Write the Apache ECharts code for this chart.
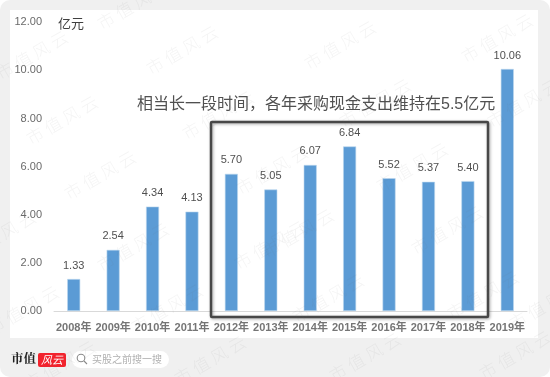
<!DOCTYPE html>
<html>
<head>
<meta charset="utf-8">
<style>
html, body { margin: 0; padding: 0; background: #fff; }
#chart { width: 550px; height: 377px; }
</style>
<script src="https://cdn.jsdelivr.net/npm/echarts@6/dist/echarts.min.js"></script>
</head>
<body>
<div id="chart"></div>
<script>
var categories = ['2008年','2009年','2010年','2011年','2012年','2013年','2014年','2015年','2016年','2017年','2018年','2019年'];
var values = [1.33, 2.54, 4.34, 4.13, 5.70, 5.05, 6.07, 6.84, 5.52, 5.37, 5.40, 10.06];
var unitLabel = '亿元';
var noteText = '相当长一段时间\uff0c各年采购现金支出维持在5.5亿元';
var searchText = '买股之前搜一搜';
var markText = '市 值 风 云';
// 水印中心点
var markSpots = [[32,55],[182,50],[133,5],[340,45],[497,38],[62,120],[218,115],[375,103],[523,103],
    [100,175],[412,167],[272,170],[0,235],[133,247],[270,245],[298,233],[447,230],[23,310],[167,308],
    [328,298],[483,295],[60,365],[210,360],[365,357],[515,355],[545,305]];

var font = '"Liberation Sans", "Noto Sans CJK SC", sans-serif';
var cjk = '"Noto Sans CJK SC", sans-serif';

var shapes = [
    {type: 'rect', z: -20, shape: {x: 0, y: 0, width: 550, height: 377, r: 10}, style: {fill: '#f0f0f0'}},
    {type: 'rect', z: -19, shape: {x: 10, y: 10, width: 528, height: 328}, style: {fill: '#fff'}},
    {type: 'text', z: 20, x: 58, y: 17, style: {text: unitLabel, font: '13px ' + cjk, fill: '#404040'}},
    {type: 'text', z: 20, x: 137, y: 97, style: {text: noteText, font: '16px ' + font, fill: '#505050'}},
    {type: 'rect', z: 21, shape: {x: 211, y: 122, width: 277, height: 195, r: 1},
        style: {fill: 'none', stroke: '#484848', lineWidth: 2.5, shadowBlur: 3, shadowColor: 'rgba(0,0,0,0.35)', shadowOffsetX: 1, shadowOffsetY: 1}},
    // 底部 logo 和搜索框
    {type: 'text', z: 22, x: 11, y: 352, style: {text: '市值', font: 'bold 12.5px "Noto Serif CJK SC", ' + cjk, fill: '#222'}},
    {type: 'rect', z: 22, shape: {x: 38, y: 353, width: 28, height: 14, r: 2}, style: {fill: '#f2232d'}},
    {type: 'text', z: 23, x: 41, y: 354, style: {text: '风云', font: 'italic 11px ' + cjk, fill: '#fff'}},
    {type: 'rect', z: 22, shape: {x: 72, y: 351, width: 97, height: 17, r: 8.5}, style: {fill: '#fff'}},
    {type: 'circle', z: 23, shape: {cx: 81, cy: 358, r: 3.8}, style: {fill: 'none', stroke: '#8a8a8a', lineWidth: 1.1}},
    {type: 'line', z: 23, shape: {x1: 84, y1: 361, x2: 87, y2: 364}, style: {stroke: '#8a8a8a', lineWidth: 1.1}},
    {type: 'text', z: 23, x: 92, y: 354, style: {text: searchText, font: '10px ' + cjk, fill: '#b0b0b0'}}
];

markSpots.forEach(function (p) {
    shapes.push({
        type: 'text', z: 30, x: p[0], y: p[1], rotation: Math.PI / 6,
        style: {text: markText, font: '300 17px ' + cjk, fill: 'rgba(120,120,120,0.08)', align: 'center', verticalAlign: 'middle'}
    });
});

var myChart = echarts.init(document.getElementById('chart'), null, {renderer: 'canvas'});

var option = {
    animation: false,
    backgroundColor: '#fff',
    grid: {left: 54, right: 23, top: 22.3, bottom: 66},
    xAxis: {
        type: 'category',
        data: categories,
        axisTick: {show: false},
        axisLine: {lineStyle: {color: '#d9d9d9', width: 1}},
        axisLabel: {color: '#757575', fontFamily: font, fontSize: 11, margin: 11, interval: 0, fontWeight: 'bold'}
    },
    yAxis: {
        type: 'value',
        min: 0,
        max: 12,
        interval: 2,
        splitLine: {show: false},
        axisLine: {show: false},
        axisTick: {show: false},
        axisLabel: {
            color: '#6a6a6a', fontFamily: font, fontSize: 11, margin: 12,
            formatter: function (v) { return v.toFixed(2); }
        }
    },
    series: [{
        type: 'bar',
        data: values,
        barWidth: 13,
        itemStyle: {color: '#5b9bd5', borderColor: '#bcd7ef', borderWidth: 0.6},
        label: {
            show: true,
            position: 'top',
            distance: 8,
            color: '#505050',
            fontFamily: font,
            fontSize: 11,
            formatter: function (p) { return p.value.toFixed(2); }
        }
    }],
    graphic: {elements: shapes}
};

myChart.setOption(option);
</script>
</body>
</html>
